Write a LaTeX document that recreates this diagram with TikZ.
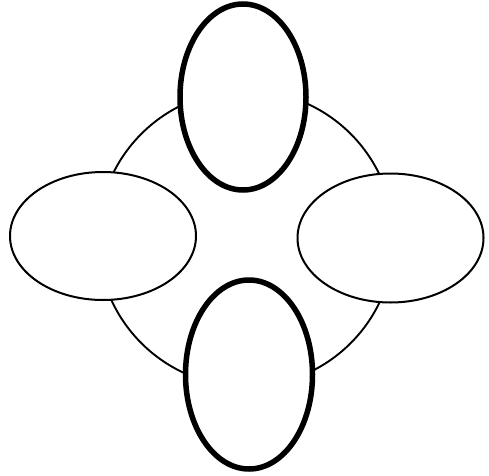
\documentclass[tikz,border=0pt]{standalone}
\usetikzlibrary{shapes.geometric}

\begin{document}
\begin{tikzpicture}[
                x=1pt, y=1pt,
                ring/.style={circle, draw, line width=1.9pt, inner sep=0pt, minimum size=296pt},
                petal/.style={ellipse, draw, fill=white, line width=2pt, inner sep=0pt},
                boldpetal/.style={petal, line width=5.5pt}
            ]
                \useasboundingbox (0,0) rectangle (489,475);
                \node[ring] (hub) at (246,236.5) {};
                \node[boldpetal, minimum width=126pt, minimum height=186pt] (top) at (243,378) {};
                \node[boldpetal, minimum width=127pt, minimum height=189pt] (bottom) at (249,100.5) {};
                \node[petal, minimum width=186pt, minimum height=128pt] (left) at (103,239) {};
                \node[petal, minimum width=186pt, minimum height=129pt] (right) at (390.5,237) {};
            \end{tikzpicture}
\end{document}
